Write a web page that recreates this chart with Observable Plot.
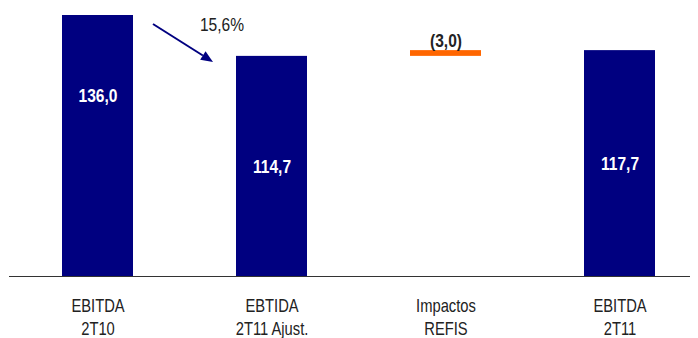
<!DOCTYPE html>
<html>
<head>
<meta charset="utf-8">
<script src="https://cdn.jsdelivr.net/npm/d3@7"></script>
<script src="https://cdn.jsdelivr.net/npm/@observablehq/plot@0.6"></script>
<style>
  html, body { margin: 0; padding: 0; background: #fff; }
  #chart svg { display: block; }
</style>
</head>
<body>
<div id="chart"></div>
<script>
const categories = ["EBITDA\n2T10", "EBTIDA\n2T11 Ajust.", "Impactos\nREFIS", "EBITDA\n2T11"];
const barStarts = [0, 0, 114.7, 0];
const barEnds = [136.0, 114.7, 117.7, 117.7];
const valueLabels = ["136,0", "114,7", "(3,0)", "117,7"];
const barKinds = ["total", "total", "delta", "total"];
const changeLabel = "15,6%";

const rows = categories.map((c, i) => ({
  cat: c, y1: barStarts[i], y2: barEnds[i], label: valueLabels[i], kind: barKinds[i], i
}));
const totals = rows.filter(d => d.kind === "total");
const deltas = rows.filter(d => d.kind === "delta");

const FONT = "'Liberation Sans', Arial, sans-serif";
const NAVY = "#000080";

const chart = Plot.plot({
  width: 698,
  height: 338,
  marginTop: 15,
  marginBottom: 62,
  marginLeft: 9,
  marginRight: 8,
  style: { fontFamily: FONT, fontSize: "19px", background: "#fff" },
  x: { domain: categories, paddingInner: 0.593, paddingOuter: 0.25, align: 0.603, axis: null },
  y: { domain: [0, 136], axis: null },
  marks: [
    Plot.barY(totals, { x: "cat", y1: "y1", y2: "y2", fill: NAVY }),
    Plot.barY(deltas, { x: "cat", y1: "y1", y2: "y2", fill: "#FF6600" }),
    Plot.ruleY([0], { stroke: "#333", strokeWidth: 1 }),
    Plot.text(totals, {
      x: "cat",
      y: d => d.i === 0 ? d.y2 * 0.69 : d.y2 / 2,
      text: "label", fill: "white", fontWeight: "bold", fontSize: 19
    }),
    Plot.text(deltas, {
      x: "cat", y: "y2", text: "label", fill: "#222", fontWeight: "bold", fontSize: 19,
      lineAnchor: "bottom", dy: -4
    }),
    Plot.text(rows, {
      x: "cat", y: 0, text: "cat", fill: "#222", fontSize: 18,
      lineAnchor: "top", dy: 19, lineHeight: 1.28
    }),
    Plot.text([{ cat: categories[1], y: barEnds[0], label: changeLabel }], {
      x: "cat", y: "y", text: "label", fill: "#222", fontSize: 19,
      dx: -50, dy: 9
    })
  ]
});
document.getElementById("chart").appendChild(chart);

// Narrow the glyphs horizontally around each text's anchor (Arial Narrow look)
const SQUISH = 0.82;
chart.querySelectorAll("text").forEach(t => {
  const tr = t.getAttribute("transform") || "";
  t.setAttribute("transform", `${tr} scale(${SQUISH},1)`.trim());
});

// Change arrow from bar 1 to bar 2, positioned with Plot's own scales
const xs = chart.scale("x"), ys = chart.scale("y");
const bw = xs.bandwidth;
const bar1Right = xs.apply(categories[0]) + bw;
const bar2Left = xs.apply(categories[1]);
const p0 = [bar1Right + 20, ys.apply(barEnds[0]) + 9];
const p1 = [bar2Left - 23, ys.apply(barEnds[1]) + 6];
const ang = Math.atan2(p1[1] - p0[1], p1[0] - p0[0]);
const headLen = 12, headHalf = 5;
const base = [p1[0] - headLen * Math.cos(ang), p1[1] - headLen * Math.sin(ang)];
const g = d3.select(chart).append("g");
g.append("line")
  .attr("x1", p0[0]).attr("y1", p0[1]).attr("x2", base[0]).attr("y2", base[1])
  .attr("stroke", NAVY).attr("stroke-width", 2);
g.append("path")
  .attr("d", `M${p1[0]},${p1[1]}L${base[0] - headHalf * Math.sin(ang)},${base[1] + headHalf * Math.cos(ang)}L${base[0] + headHalf * Math.sin(ang)},${base[1] - headHalf * Math.cos(ang)}Z`)
  .attr("fill", NAVY);
</script>
</body>
</html>
